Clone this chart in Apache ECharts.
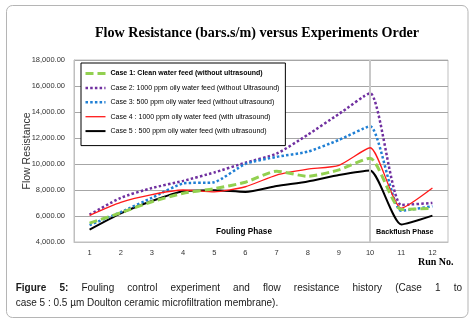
<!DOCTYPE html>
<html>
<head>
<meta charset="utf-8">
<script src="https://cdn.jsdelivr.net/npm/echarts@6/dist/echarts.min.js"></script>
<style>html,body{margin:0;padding:0;background:#fff;}#c{width:475px;height:325px;}</style>
</head>
<body>
<div id="c"></div>
<script>
var runs = ['1','2','3','4','5','6','7','8','9','10','11','12'];
var seriesNames = [
  'Case 1: Clean water feed (without ultrasound)',
  'Case 2: 1000 ppm oily water feed (without Ultrasound)',
  'Case 3: 500 ppm oily water feed (without ultrasound)',
  'Case 4 : 1000 ppm oily water feed (with ultrasound)',
  'Case 5 : 500 ppm oily water feed (with ultrasound)'
];
var case1 = [5450, 6250, 7100, 7750, 8100, 8600, 9450, 9050, 9550, 10450, 6500, 6600];
var case2 = [6100, 7400, 8150, 8700, 9350, 10100, 10800, 12250, 13850, 15450, 6850, 7000];
var case3 = [5300, 6300, 7400, 8500, 8600, 10000, 10550, 10950, 11850, 12900, 6400, 6750];
var case4 = [6050, 7050, 7650, 8000, 7850, 8250, 9150, 9600, 9900, 11250, 6600, 8150];
var case5 = [4950, 6200, 7150, 7900, 7980, 7850, 8300, 8650, 9150, 9500, 5350, 6030];
var yMin = 4000, yMax = 18000, yStep = 2000;
var titleText = 'Flow Resistance (bars.s/m) versus Experiments Order';
var yName = 'Flow Resistance';
var xName = 'Run No.';
var phase1 = 'Fouling Phase';
var phase2 = 'Backflush Phase';
var captionLine1 = [['Figure', true], ['5:', true], ['Fouling', false], ['control', false], ['experiment', false], ['and', false], ['flow', false], ['resistance', false], ['history', false], ['(Case', false], ['1', false], ['to', false]];
var captionLine2 = 'case 5 : 0.5 \u00b5m Doulton ceramic microfiltration membrane).';

var SANS = "'Liberation Sans', Arial, sans-serif";
var SERIF = "'Liberation Serif', 'Times New Roman', serif";

var chart = echarts.init(document.getElementById('c'), null, {renderer: 'canvas'});

function fmt(v) {
  return v.toLocaleString('en-US', {minimumFractionDigits: 2, maximumFractionDigits: 2});
}

// caption justification
var capFont = 10;
var mctx = document.createElement('canvas').getContext('2d');
function wWidth(t, bold) {
  mctx.font = (bold ? 'bold ' : '') + capFont + 'px ' + SANS;
  return mctx.measureText(t).width;
}
var capX0 = 15.7, capX1 = 462;
var totalW = 0;
captionLine1.forEach(function (w) { totalW += wWidth(w[0], w[1]); });
var gap = (capX1 - capX0 - totalW) / (captionLine1.length - 1);
var capGraphics = [];
var cx = capX0;
captionLine1.forEach(function (w) {
  capGraphics.push({
    type: 'text', left: cx, top: 283.5,
    style: {text: w[0], font: (w[1] ? 'bold ' : '') + capFont + 'px ' + SANS, fill: '#1a1a1a'}
  });
  cx += wWidth(w[0], w[1]) + gap;
});
capGraphics.push({
  type: 'text', left: capX0, top: 298.5,
  style: {text: captionLine2, font: capFont + 'px ' + SANS, fill: '#1a1a1a'}
});

var styles = [
  {color: '#92D050', width: 3, type: [8, 4]},
  {color: '#7030A0', width: 2.5, type: [2.5, 2.2]},
  {color: '#1F7FD4', width: 2.5, type: [2.5, 2.2]},
  {color: '#FF1A1A', width: 1.3, type: 'solid'},
  {color: '#000000', width: 2, type: 'solid'}
];
var datas = [case1, case2, case3, case4, case5];
var zOrder = [6, 3, 4, 5, 2];

var series = datas.map(function (d, i) {
  return {
    name: seriesNames[i],
    type: 'line',
    data: d,
    smooth: 0.2,
    symbol: 'none',
    z: zOrder[i],
    lineStyle: {color: styles[i].color, width: styles[i].width, type: styles[i].type},
    itemStyle: {color: styles[i].color}
  };
});
series.push({
  type: 'line', data: [], z: 1, silent: true,
  markLine: {
    symbol: 'none', silent: true, label: {show: false},
    lineStyle: {color: '#C8C8C8', width: 2, type: 'solid'},
    data: [{xAxis: '10'}]
  }
});

chart.setOption({
  animation: false,
  backgroundColor: '#ffffff',
  title: {
    text: titleText, left: 95, top: 26, padding: 0,
    textStyle: {fontFamily: SERIF, fontWeight: 'bold', fontSize: 14.1, color: '#000'}
  },
  legend: {
    orient: 'vertical', left: 81, top: 63,
    data: seriesNames,
    backgroundColor: '#ffffff', borderColor: '#000', borderWidth: 1,
    padding: [6, 6, 10, 3],
    itemWidth: 20, itemHeight: 8, itemGap: 5.4,
    selectedMode: false,
    itemStyle: {opacity: 0, color: 'transparent', borderWidth: 0},
    lineStyle: {width: 'inherit'},
    textStyle: {fontFamily: SANS, fontSize: 7, color: '#000', lineHeight: 9,
      rich: {b: {fontFamily: SANS, fontSize: 7, fontWeight: 'bold', color: '#000', lineHeight: 9}}},
    formatter: function (n) { return n === seriesNames[0] ? '{b|' + n + '}' : n; }
  },
  grid: {left: 74, right: 27, top: 60, bottom: 83, show: true, borderColor: '#BFBFBF', borderWidth: 1},
  xAxis: {
    type: 'category', data: runs, boundaryGap: true,
    axisLine: {lineStyle: {color: '#BFBFBF'}},
    axisTick: {show: false},
    axisLabel: {fontFamily: SANS, fontSize: 7.5, color: '#333', margin: 7}
  },
  yAxis: {
    type: 'value', min: yMin, max: yMax, interval: yStep,
    name: yName, nameLocation: 'middle', nameGap: 41, nameMoveOverlap: false,
    nameTextStyle: {fontFamily: SANS, fontSize: 10.5, color: '#333'},
    axisLine: {show: true, lineStyle: {color: '#BFBFBF'}},
    axisTick: {show: false},
    axisLabel: {fontFamily: SANS, fontSize: 7.5, color: '#333', margin: 9, formatter: fmt},
    splitLine: {lineStyle: {color: '#A6A6A6', width: 1}}
  },
  graphic: [
    {type: 'rect', shape: {x: 6.5, y: 5.5, width: 461.5, height: 312, r: 6},
     style: {fill: 'none', stroke: '#B5B5B5', lineWidth: 1}, silent: true, z: -10},
    {type: 'text', left: 216, top: 228,
     style: {text: phase1, font: 'bold 8.2px ' + SANS, fill: '#000'}},
    {type: 'text', left: 376, top: 228.5,
     style: {text: phase2, font: 'bold 7.2px ' + SANS, fill: '#000'}},
    {type: 'text', left: 418, top: 257,
     style: {text: xName, font: 'bold 10px ' + SERIF, fill: '#000'}}
  ].concat(capGraphics),
  series: series
});
</script>
</body>
</html>
